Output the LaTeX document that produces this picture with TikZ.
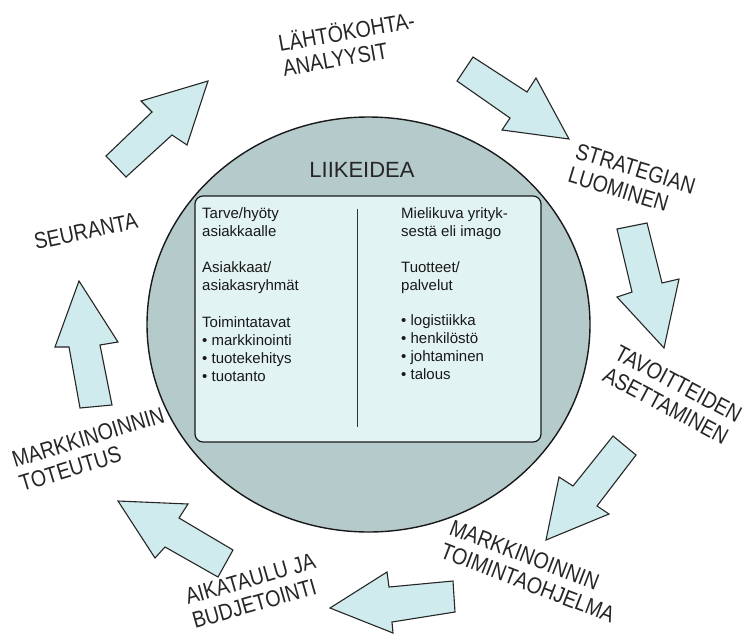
\documentclass[tikz,border=0pt]{standalone}
\usepackage{fontspec}
\usetikzlibrary{shapes.geometric}
\setmainfont{Liberation Sans}
\definecolor{circfill}{RGB}{180,202,203}
\definecolor{rectfill}{RGB}{226,243,243}
\definecolor{arrfill}{RGB}{208,235,237}
\definecolor{txt}{RGB}{38,38,38}
\tikzset{
  blockarrow/.style={draw=black!85, line width=1.1pt, fill=arrfill, line join=miter},
  lbl/.style={inner sep=0pt, anchor=base west, text=txt, font=\fontsize{23}{25}\selectfont},
  inner/.style={inner sep=0pt, anchor=base west, text=black!90, font=\fontsize{15}{18}\selectfont},
}
\begin{document}
\begin{tikzpicture}[x=1pt,y=-1pt]
\useasboundingbox (0,0) rectangle (744,635);
% central ellipse
\node[draw=black!90, line width=1.4pt, fill=circfill, ellipse, minimum width=443pt, minimum height=415pt, inner sep=0pt] (circ) at (368.5,324.5) {};
% inner rounded rectangle
\draw[draw=black!90, line width=1.2pt, fill=rectfill, rounded corners=8pt] (195,196) rectangle (541,442);
\coordinate (divtop) at (357,209);
\coordinate (divbot) at (357,427);
\draw[black!80, line width=0.9pt] (divtop) -- (divbot);
\node[inner sep=0pt, text=txt, font=\fontsize{22}{24}\selectfont] (title) at (362,170) {LIIKEIDEA};
% left column
\node[inner] (t1) at (202,218) {Tarve/hyöty};
\node[inner] (t2) at (202,236) {asiakkaalle};
\node[inner] (t3) at (202,272) {Asiakkaat/};
\node[inner] (t4) at (202,290) {asiakasryhmät};
\node[inner] (t5) at (202,327) {Toimintatavat};
\node[inner] (t6) at (202,345) {• markkinointi};
\node[inner] (t7) at (202,363) {• tuotekehitys};
\node[inner] (t8) at (202,381) {• tuotanto};
% right column
\node[inner] (r1) at (401,218) {Mielikuva yrityk-};
\node[inner] (r2) at (401,236) {sestä eli imago};
\node[inner] (r3) at (401,272) {Tuotteet/};
\node[inner] (r4) at (401,290) {palvelut};
\node[inner] (r5) at (401,325) {• logistiikka};
\node[inner] (r6) at (401,343) {• henkilöstö};
\node[inner] (r7) at (401,361) {• johtaminen};
\node[inner] (r8) at (401,379) {• talous};
% block arrows
\draw[blockarrow] (106,156) -- (152,112) -- (141,101) -- (208,81) -- (187,145) -- (172,135) -- (126,177) -- cycle;
\draw[blockarrow] (473,57) -- (527,92) -- (536,78) -- (569,139) -- (502,130) -- (510,118) -- (457,81) -- cycle;
\draw[blockarrow] (617,229) -- (632,292) -- (617,297) -- (664,348) -- (679,279) -- (662,283) -- (647,223) -- cycle;
\draw[blockarrow] (613,436) -- (573,486) -- (559,477) -- (546,540) -- (609,514) -- (597,506) -- (636,455) -- cycle;
\draw[blockarrow] (453,581) -- (389,587) -- (387,572) -- (330,608) -- (393,633) -- (392,622) -- (455,612) -- cycle;
\draw[blockarrow] (233,550) -- (179,518) -- (188,504) -- (118,501) -- (155,558) -- (165,547) -- (218,577) -- cycle;
\draw[blockarrow] (80,408) -- (69,347) -- (55,347) -- (79,281) -- (118,342) -- (100,345) -- (112,405) -- cycle;
% outer labels
\node[lbl, rotate=10, xscale=0.85] (la1) at (280,52) {LÄHTÖKOHTA-};
\node[lbl, rotate=10, xscale=0.85] (la2) at (284.3,76.6) {ANALYYSIT};
\node[lbl, rotate=-17, xscale=0.85] (lb1) at (574,158) {STRATEGIAN};
\node[lbl, rotate=-17, xscale=0.85] (lb2) at (566.7,181.9) {LUOMINEN};
\node[lbl, rotate=-28, xscale=0.85] (lc1) at (613,358) {TAVOITTEIDEN};
\node[lbl, rotate=-28, xscale=0.85] (lc2) at (601.3,380.1) {ASETTAMINEN};
\node[lbl, rotate=-21, xscale=0.85] (ld1) at (448,534) {MARKKINOINNIN};
\node[lbl, rotate=-21, xscale=0.85] (ld2) at (439,557.3) {TOIMINTAOHJELMA};
\node[lbl, rotate=16, xscale=0.85] (le1) at (188,605) {AIKATAULU JA};
\node[lbl, rotate=16, xscale=0.85] (le2) at (194.9,629) {BUDJETOINTI};
\node[lbl, rotate=17, xscale=0.85] (lf1) at (15,468) {MARKKINOINNIN};
\node[lbl, rotate=17, xscale=0.85] (lf2) at (22.3,491.9) {TOTEUTUS};
\node[lbl, rotate=12, xscale=0.85] (lg1) at (36,250) {SEURANTA};
\end{tikzpicture}
\end{document}
